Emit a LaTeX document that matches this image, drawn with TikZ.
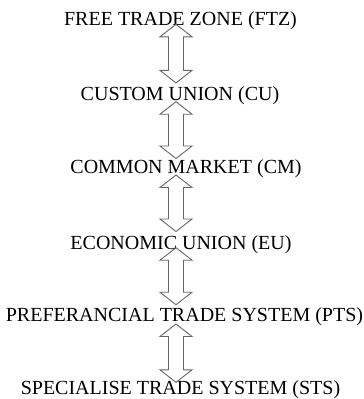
\documentclass[tikz,border=0pt]{standalone}
\usepackage{fontspec}
\setmainfont{Liberation Serif}
\usetikzlibrary{calc}

\begin{document}
\begin{tikzpicture}[x=1pt,y=-1pt,
  stage/.style={inner sep=0pt,anchor=base,font=\fontsize{20}{24}\selectfont},
  blockarrow/.style={draw=black!60,line width=0.9pt,line join=miter,
    to path={let \p1=(\tikztostart), \p2=(\tikztotarget) in
      (\x1,\y1) -- (\x1+16pt,\y1-12.5pt) -- (\x1+7.5pt,\y1-12.5pt)
      -- (\x2+7.5pt,\y2+12.5pt) -- (\x2+16pt,\y2+12.5pt) -- (\x2,\y2)
      -- (\x2-16pt,\y2+12.5pt) -- (\x2-7.5pt,\y2+12.5pt)
      -- (\x1-7.5pt,\y1-12.5pt) -- (\x1-16pt,\y1-12.5pt) -- cycle}}]
  \useasboundingbox (0,0) rectangle (364,399);
  \coordinate (axis) at (176,0);
  \node [stage] (ftz) at (180.5,25) {FREE TRADE ZONE (FTZ)};
  \node [stage] (cu) at (180,100) {CUSTOM UNION (CU)};
  \node [stage] (cm) at (186,173) {COMMON MARKET (CM)};
  \node [stage] (eu) at (181,249) {ECONOMIC UNION (EU)};
  \node [stage] (pts) at (184.5,321.5) {PREFERANCIAL TRADE SYSTEM (PTS)};
  \node [stage] (sts) at (180.5,394.5) {SPECIALISE TRADE SYSTEM (STS)};
  \draw[blockarrow] ([yshift=0.7pt]ftz.base -| axis) to ([yshift=3pt]cu.north -| axis);
  \draw[blockarrow] ([yshift=-1.7pt]cu.base -| axis) to ([yshift=0.4pt]cm.north -| axis);
  \draw[blockarrow] ([yshift=-2pt]cm.base -| axis) to ([yshift=3.4pt]eu.north -| axis);
  \draw[blockarrow] ([yshift=1.3pt]eu.base -| axis) to ([yshift=2.7pt]pts.north -| axis);
  \draw[blockarrow] ([yshift=-2.5pt]pts.base -| axis) to ([yshift=-1.9pt]sts.north -| axis);
\end{tikzpicture}
\end{document}
